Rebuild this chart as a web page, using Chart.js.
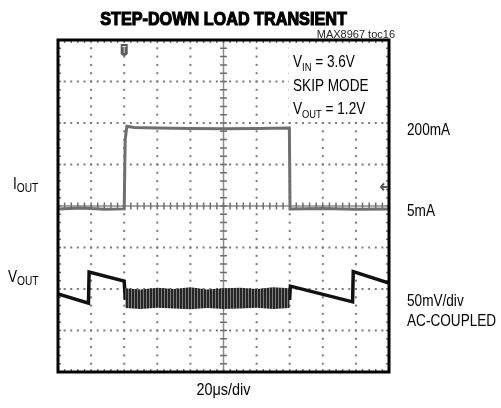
<!DOCTYPE html>
<html>
<head>
<meta charset="utf-8">
<script src="https://cdn.jsdelivr.net/npm/chart.js@4/dist/chart.umd.min.js"></script>
<style>
  html, body { margin: 0; padding: 0; background: #fff; }
  #wrap { width: 501px; height: 408px; }
</style>
</head>
<body>
<div id="wrap"><canvas id="scope" width="501" height="408"></canvas></div>
<script>
// scope screen: 10 horizontal divisions (20us/div), 8 vertical divisions
const iOutT   = [0, 0.7, 1.4, 2.0, 2.03, 2.08, 2.3, 3.0, 4.0, 5.0, 6.0, 6.99, 7.01, 8.0, 9.0, 10];
const iOutDiv = [3.93, 3.95, 3.92, 3.93, 5.6, 5.92, 5.89, 5.88, 5.87, 5.86, 5.87, 5.88, 3.93, 3.94, 3.92, 3.93];

const vOutT   = [0, 0.92, 0.94, 2.0, 2.03, 7.0, 7.02, 8.9, 8.92, 10];
const vOutDiv = [1.88, 1.66, 2.41, 2.19, 1.78, 1.78, 2.07, 1.69, 2.42, 2.14];

// skip-mode ripple envelope while loaded
const rippleT  = [2.03, 2.5, 3.0, 3.5, 4.0, 4.5, 5.0, 5.5, 6.0, 6.5, 7.0];
const rippleHi = [2.02, 1.99, 2.03, 2.0, 2.04, 1.99, 2.02, 2.03, 2.0, 2.04, 2.02];
const rippleLo = [1.54, 1.52, 1.55, 1.53, 1.51, 1.54, 1.52, 1.53, 1.55, 1.52, 1.54];

const triggerT = 2;
const iOutRefDiv = 4.46;

const FONT = '"Liberation Sans", Arial, sans-serif';
const NARROW = 0.85;

function pts(xs, ys) {
    return xs.map((x, i) => ({ x: x, y: ys[i] }));
}

// vertical stripe texture for the ripple band
function stripePattern() {
    const c = document.createElement('canvas');
    c.width = 3; c.height = 1;
    const g = c.getContext('2d');
    g.fillStyle = '#262626';
    g.fillRect(0, 0, 2, 1);
    g.fillStyle = '#7c7c7c';
    g.fillRect(2, 0, 1, 1);
    return g.createPattern(c, 'repeat');
}

const scopeGrid = {
    id: 'scopeGrid',
    beforeDatasetsDraw(chart) {
        const ctx = chart.ctx;
        const xs = chart.scales.x, ys = chart.scales.y;
        const a = chart.chartArea;
        ctx.save();
        ctx.fillStyle = '#7a7a7a';
        // dotted graticule
        for (let i = 1; i < 10; i++) {
            if (i === 5) continue;
            const px = xs.getPixelForValue(i);
            for (let j = 1; j < 40; j++) {
                const py = ys.getPixelForValue(j / 5);
                ctx.fillRect(px - 1, py - 1, 2, 2);
            }
        }
        for (let i = 1; i < 8; i++) {
            if (i === 4) continue;
            const py = ys.getPixelForValue(i);
            for (let j = 1; j < 50; j++) {
                const px = xs.getPixelForValue(j / 5);
                ctx.fillRect(px - 1, py - 1, 2, 2);
            }
        }
        // centre cross with minor ticks
        const cx = xs.getPixelForValue(5), cy = ys.getPixelForValue(4);
        ctx.strokeStyle = '#8c8c8c';
        ctx.lineWidth = 1.5;
        ctx.beginPath();
        ctx.moveTo(cx, a.top); ctx.lineTo(cx, a.bottom);
        ctx.moveTo(a.left, cy); ctx.lineTo(a.right, cy);
        ctx.stroke();
        ctx.strokeStyle = '#6e6e6e';
        ctx.lineWidth = 1.5;
        ctx.beginPath();
        for (let j = 1; j < 40; j++) {
            const py = ys.getPixelForValue(j / 5);
            ctx.moveTo(cx - 3.5, py); ctx.lineTo(cx + 3.5, py);
            ctx.moveTo(a.left, py); ctx.lineTo(a.left + 3, py);
            ctx.moveTo(a.right - 3, py); ctx.lineTo(a.right, py);
        }
        for (let j = 1; j < 50; j++) {
            const px = xs.getPixelForValue(j / 5);
            ctx.moveTo(px, cy - 3.5); ctx.lineTo(px, cy + 3.5);
            ctx.moveTo(px, a.top); ctx.lineTo(px, a.top + 3);
            ctx.moveTo(px, a.bottom - 3); ctx.lineTo(px, a.bottom);
        }
        ctx.stroke();
        ctx.restore();
    },
    afterDatasetsDraw(chart) {
        const ctx = chart.ctx;
        const a = chart.chartArea;
        const xs = chart.scales.x, ys = chart.scales.y;
        ctx.save();
        // blank box behind the conditions text
        ctx.fillStyle = '#fff';
        ctx.fillRect(289, a.top + 4, 95, 75);
        // frame
        ctx.strokeStyle = '#000';
        ctx.lineWidth = 3;
        ctx.strokeRect(a.left, a.top, a.right - a.left, a.bottom - a.top);
        // trigger marker
        const tx = xs.getPixelForValue(triggerT);
        ctx.fillStyle = '#5a5a5a';
        ctx.beginPath();
        ctx.moveTo(tx - 3.5, a.top + 4);
        ctx.lineTo(tx + 3.5, a.top + 4);
        ctx.lineTo(tx + 3.5, a.top + 14);
        ctx.quadraticCurveTo(tx, a.top + 18, tx - 3.5, a.top + 14);
        ctx.closePath();
        ctx.fill();
        ctx.strokeStyle = '#ddd';
        ctx.lineWidth = 1;
        ctx.beginPath();
        ctx.moveTo(tx - 2, a.top + 6.5); ctx.lineTo(tx + 2, a.top + 6.5);
        ctx.moveTo(tx, a.top + 6.5); ctx.lineTo(tx, a.top + 13);
        ctx.stroke();
        // I_OUT reference arrow on right edge
        const ry = ys.getPixelForValue(iOutRefDiv);
        ctx.strokeStyle = '#555';
        ctx.lineWidth = 2;
        ctx.beginPath();
        ctx.moveTo(a.right - 1, ry); ctx.lineTo(a.right - 8, ry);
        ctx.moveTo(a.right - 5, ry - 3.5); ctx.lineTo(a.right - 8, ry); ctx.lineTo(a.right - 5, ry + 3.5);
        ctx.stroke();
        ctx.restore();
    }
};

// draws [text, size, baseline shift] runs, squeezed horizontally to mimic a narrow face
function runs(ctx, parts, x, y, opts) {
    const o = Object.assign({ sx: NARROW, align: 'left', weight: '', stroke: 0 }, opts || {});
    let total = 0;
    parts.forEach(p => {
        ctx.font = o.weight + ' ' + p[1] + 'px ' + FONT;
        total += ctx.measureText(p[0]).width;
    });
    ctx.save();
    ctx.translate(x, y);
    ctx.scale(o.sx, 1);
    ctx.textAlign = 'left';
    let cx = o.align === 'center' ? -total / 2 : (o.align === 'right' ? -total : 0);
    parts.forEach(p => {
        const dy = p[2] || 0;
        ctx.font = o.weight + ' ' + p[1] + 'px ' + FONT;
        ctx.fillText(p[0], cx, dy);
        if (o.stroke) {
            ctx.lineWidth = o.stroke;
            ctx.strokeText(p[0], cx, dy);
        }
        cx += ctx.measureText(p[0]).width;
    });
    ctx.restore();
}

const scopeText = {
    id: 'scopeText',
    afterDraw(chart) {
        const ctx = chart.ctx;
        const a = chart.chartArea;
        const mid = (a.left + a.right) / 2;
        ctx.save();
        ctx.fillStyle = '#000';
        ctx.strokeStyle = '#000';
        ctx.textBaseline = 'alphabetic';

        runs(ctx, [['STEP-DOWN LOAD TRANSIENT', 18, 0]], mid, 25,
            { sx: 0.9, align: 'center', weight: 'bold', stroke: 1.1 });

        ctx.fillStyle = '#222';
        runs(ctx, [['MAX8967 toc16', 11, 0]], 395, 38, { sx: 1, align: 'right' });

        ctx.fillStyle = '#000';
        runs(ctx, [['V', 16, 0], ['IN', 11, 4], [' = 3.6V', 16, 0]], 293, 67);
        runs(ctx, [['SKIP MODE', 16, 0]], 293, 91);
        runs(ctx, [['V', 16, 0], ['OUT', 11, 4], [' = 1.2V', 16, 0]], 293, 114);

        runs(ctx, [['200mA', 16, 0]], 407, 135);
        runs(ctx, [['5mA', 16, 0]], 407, 216);
        runs(ctx, [['50mV/div', 16, 0]], 407, 306);
        runs(ctx, [['AC-COUPLED', 16, 0]], 407, 326);

        runs(ctx, [['I', 16, 0], ['OUT', 12, 3]], 13, 189);
        runs(ctx, [['V', 16, 0], ['OUT', 12, 3]], 8, 282);

        runs(ctx, [['20\u03bcs/div', 17, 0]], mid, 395, { align: 'center' });
        ctx.restore();
    }
};

new Chart(document.getElementById('scope'), {
    type: 'line',
    data: {
        datasets: [
            {
                label: 'ripple hi',
                data: pts(rippleT, rippleHi),
                borderColor: 'rgba(0,0,0,0)',
                borderWidth: 0,
                backgroundColor: stripePattern(),
                fill: '+1',
                pointRadius: 0
            },
            {
                label: 'ripple lo',
                data: pts(rippleT, rippleLo),
                borderColor: 'rgba(0,0,0,0)',
                borderWidth: 0,
                fill: false,
                pointRadius: 0
            },
            {
                label: 'VOUT',
                data: pts(vOutT, vOutDiv),
                borderColor: '#111',
                borderWidth: 3.5,
                fill: false,
                pointRadius: 0
            },
            {
                label: 'IOUT',
                data: pts(iOutT, iOutDiv),
                borderColor: '#6f6f6f',
                borderWidth: 3,
                fill: false,
                pointRadius: 0
            }
        ]
    },
    options: {
        responsive: false,
        animation: false,
        layout: { padding: { left: 58, right: 112, top: 40, bottom: 36 } },
        elements: { line: { tension: 0, borderJoinStyle: 'miter' } },
        plugins: {
            legend: { display: false },
            tooltip: { enabled: false },
            title: { display: false }
        },
        scales: {
            x: { type: 'linear', min: 0, max: 10, display: false },
            y: { type: 'linear', min: 0, max: 8, display: false }
        }
    },
    plugins: [scopeGrid, scopeText]
});
</script>
</body>
</html>
